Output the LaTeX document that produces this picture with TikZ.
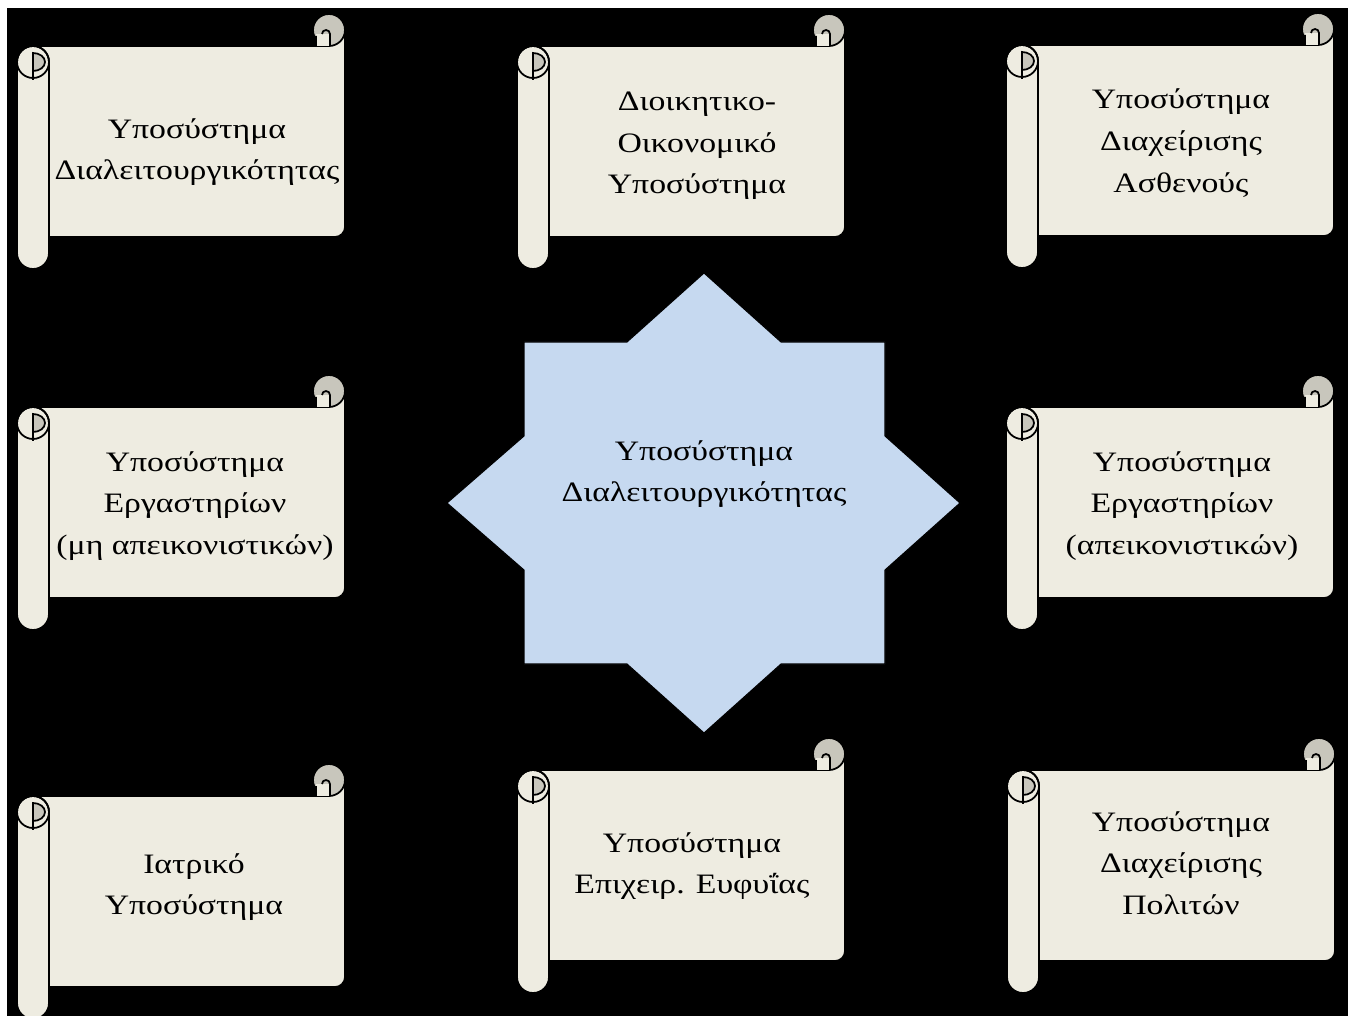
\documentclass[tikz,border=0pt]{standalone}
\usepackage{fontspec}
\setmainfont{Liberation Serif}[FakeStretch=1.2]
\usepackage{tikz}
\usetikzlibrary{positioning}

\definecolor{parchment}{RGB}{238,236,225}
\definecolor{rollgrey}{RGB}{200,198,188}
\definecolor{hubblue}{RGB}{198,217,240}

\tikzset{
  scrollbody/.style={fill=parchment, draw=black, line width=1pt},
  scrollroll/.style={fill=rollgrey, draw=black, line width=1pt},
  scrolltext/.style={align=center, font=\fontsize{16}{23.7}\selectfont},
  scroll/.pic={
    % sheet, curl top right, roller on the left
    \filldraw[scrollbody] (16,32) -- (312,32) -- (312,16) -- (328,16) -- (328,213)
      arc[start angle=0, end angle=90, radius=10] -- (16,223) -- cycle;
    \filldraw[scrollroll] (312,16) circle[radius=16];
    \fill[parchment] (299,20) rectangle (313,32);
    \draw[line width=1pt] (299,22) -- (299,32) (313,32) -- (313,20)
      arc[start angle=0, end angle=-180, radius=4];
    \filldraw[scrollbody] (0,48) -- (0,239) arc[start angle=180, end angle=0, radius=16]
      -- (32,48) arc[start angle=0, end angle=-180, radius=16] -- cycle;
    \draw[line width=1pt] (16,48) circle[radius=16];
    \filldraw[scrollroll] (16,39) arc[start angle=-90, end angle=90, x radius=12, y radius=9] -- cycle;
    \draw[line width=1pt] (16,39) -- (16,66);
  }
}

\begin{document}
\begin{tikzpicture}[x=0.02cm, y=-0.02cm]
    \useasboundingbox (0,0) rectangle (1355,1016);
    \fill[black] (7,8) rectangle (1348,1016);

    \pic at (17,14) {scroll};
    \pic at (517,14) {scroll};
    \pic at (1006,13) {scroll};
    \pic at (17,375) {scroll};
    \pic at (1006,375) {scroll};
    \pic at (17,764) {scroll};
    \pic at (517,738) {scroll};
    \pic at (1007,738) {scroll};

    \filldraw[fill=hubblue, draw=black, line width=0.6pt]
      (704,273) -- (781,342) -- (885,342) -- (885,436) -- (960,503) -- (885,570)
      -- (885,664) -- (781,664) -- (704,733) -- (627,664) -- (524,664) -- (524,570)
      -- (447,503) -- (524,436) -- (524,342) -- (627,342) -- cycle;

    \node[scrolltext] at (704,474) (hub){Υποσύστημα\\Διαλειτουργικότητας};

    \node[scrolltext] at (197,152) (interop){Υποσύστημα\\Διαλειτουργικότητας};
    \node[scrolltext] at (697,146) (admin){Διοικητικο-\\Οικονομικό\\Υποσύστημα};
    \node[scrolltext] at (1181,143) (patient){Υποσύστημα\\Διαχείρισης\\Ασθενούς};
    \node[scrolltext] at (195,506) (lablist){Υποσύστημα\\Εργαστηρίων\\(μη απεικονιστικών)};
    \node[scrolltext] at (1182,506) (imaging){Υποσύστημα\\Εργαστηρίων\\(απεικονιστικών)};
    \node[scrolltext] at (194,887) (medical){Ιατρικό\\Υποσύστημα};
    \node[scrolltext] at (692,866) (business){Υποσύστημα\\Επιχειρ. Ευφυΐας};
    \node[scrolltext] at (1181,863) (citizen){Υποσύστημα\\Διαχείρισης\\Πολιτών};
\end{tikzpicture}
\end{document}
